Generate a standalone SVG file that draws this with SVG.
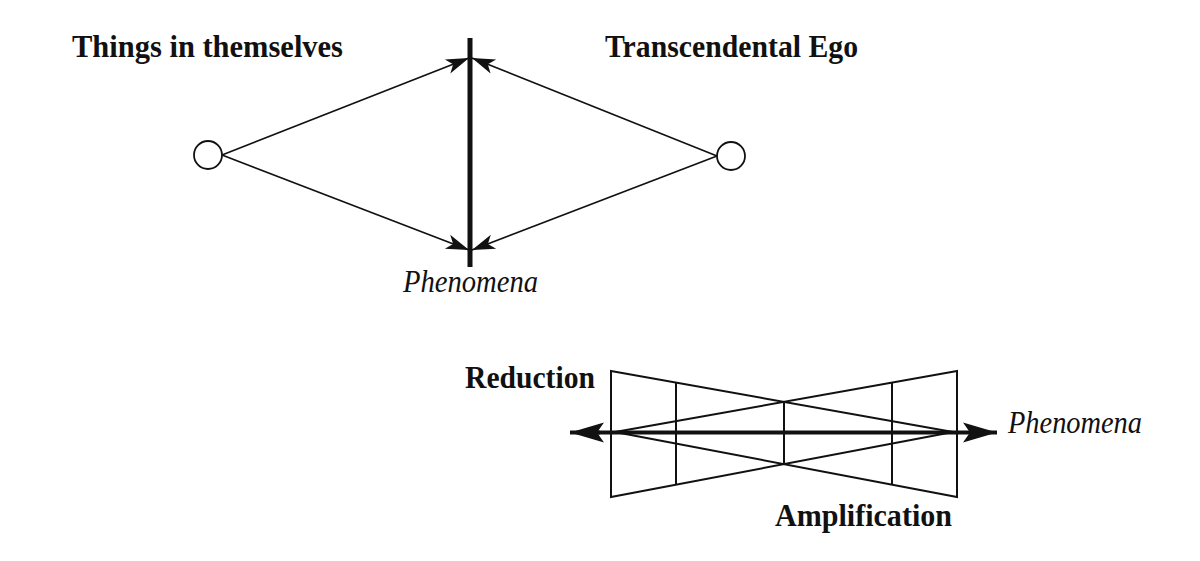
<svg xmlns="http://www.w3.org/2000/svg" width="1200" height="561" viewBox="0 0 1200 561">
<style>
.t{font-family:"Liberation Serif","Times New Roman",serif;font-size:31px;fill:#111;}
.b{font-weight:bold;}
.i{font-style:italic;}
.thin{stroke:#111;stroke-width:1.7;fill:none;}
.thin2{stroke:#111;stroke-width:2;fill:none;stroke-linejoin:miter;}
.thick{stroke:#111;stroke-width:5;fill:none;}
.axis{stroke:#111;stroke-width:4;fill:none;}
.node{fill:#fff;stroke:#111;stroke-width:1.8;}
</style>
<defs>
<marker id="ah" markerUnits="userSpaceOnUse" markerWidth="26" markerHeight="18" viewBox="-24 -9 26 18" refX="0" refY="0" orient="auto">
<path d="M0,0 L-23,-7.5 L-17,0 L-23,7.5 Z" fill="#111"/>
</marker>
<marker id="ahb" markerUnits="userSpaceOnUse" markerWidth="36" markerHeight="24" viewBox="-34 -12 36 24" refX="0" refY="0" orient="auto">
<path d="M0,0 L-34,-10 L-27,0 L-34,10 Z" fill="#111"/>
</marker>
</defs>
<rect width="1200" height="561" fill="#fff"/>
<g id="connectors">
<line class="thin" x1="222" y1="155" x2="469" y2="58" marker-end="url(#ah)"/>
<line class="thin" x1="222" y1="155" x2="469" y2="250" marker-end="url(#ah)"/>
<line class="thin" x1="717" y1="156" x2="472" y2="58" marker-end="url(#ah)"/>
<line class="thin" x1="717" y1="156" x2="472" y2="250" marker-end="url(#ah)"/>
</g>
<g id="phenomena-bar">
<line class="thick" x1="470" y1="38" x2="470" y2="267"/>
</g>
<g id="things-in-themselves">
<circle class="node" cx="208" cy="155" r="14"/>
<text class="t b" x="72" y="57" textLength="271" lengthAdjust="spacingAndGlyphs">Things in themselves</text>
</g>
<g id="transcendental-ego">
<circle class="node" cx="731" cy="156" r="14"/>
<text class="t b" x="605" y="57" textLength="253" lengthAdjust="spacingAndGlyphs">Transcendental Ego</text>
</g>
<g id="phenomena-label">
<text class="t i" x="403" y="292" textLength="135" lengthAdjust="spacingAndGlyphs">Phenomena</text>
</g>
<g id="bowtie">
<polygon class="thin2" points="611,371 953,432 611,497"/>
<polygon class="thin2" points="957,371 615,432 957,497"/>
<line class="thin2" x1="676" y1="382.6" x2="676" y2="484.6"/>
<line class="thin2" x1="892" y1="382.6" x2="892" y2="484.6"/>
<line class="thin2" x1="784" y1="402" x2="784" y2="464"/>
<line class="axis" x1="600" y1="432.5" x2="570" y2="432.5" marker-end="url(#ahb)"/>
<line class="axis" x1="598" y1="432.5" x2="997" y2="432.5" marker-end="url(#ahb)"/>
</g>
<g id="reduction">
<text class="t b" x="465" y="388" textLength="130" lengthAdjust="spacingAndGlyphs">Reduction</text>
</g>
<g id="amplification">
<text class="t b" x="775" y="526" textLength="177" lengthAdjust="spacingAndGlyphs">Amplification</text>
</g>
<g id="phenomena-axis-label">
<text class="t i" x="1008" y="433" textLength="134" lengthAdjust="spacingAndGlyphs">Phenomena</text>
</g>
</svg>
